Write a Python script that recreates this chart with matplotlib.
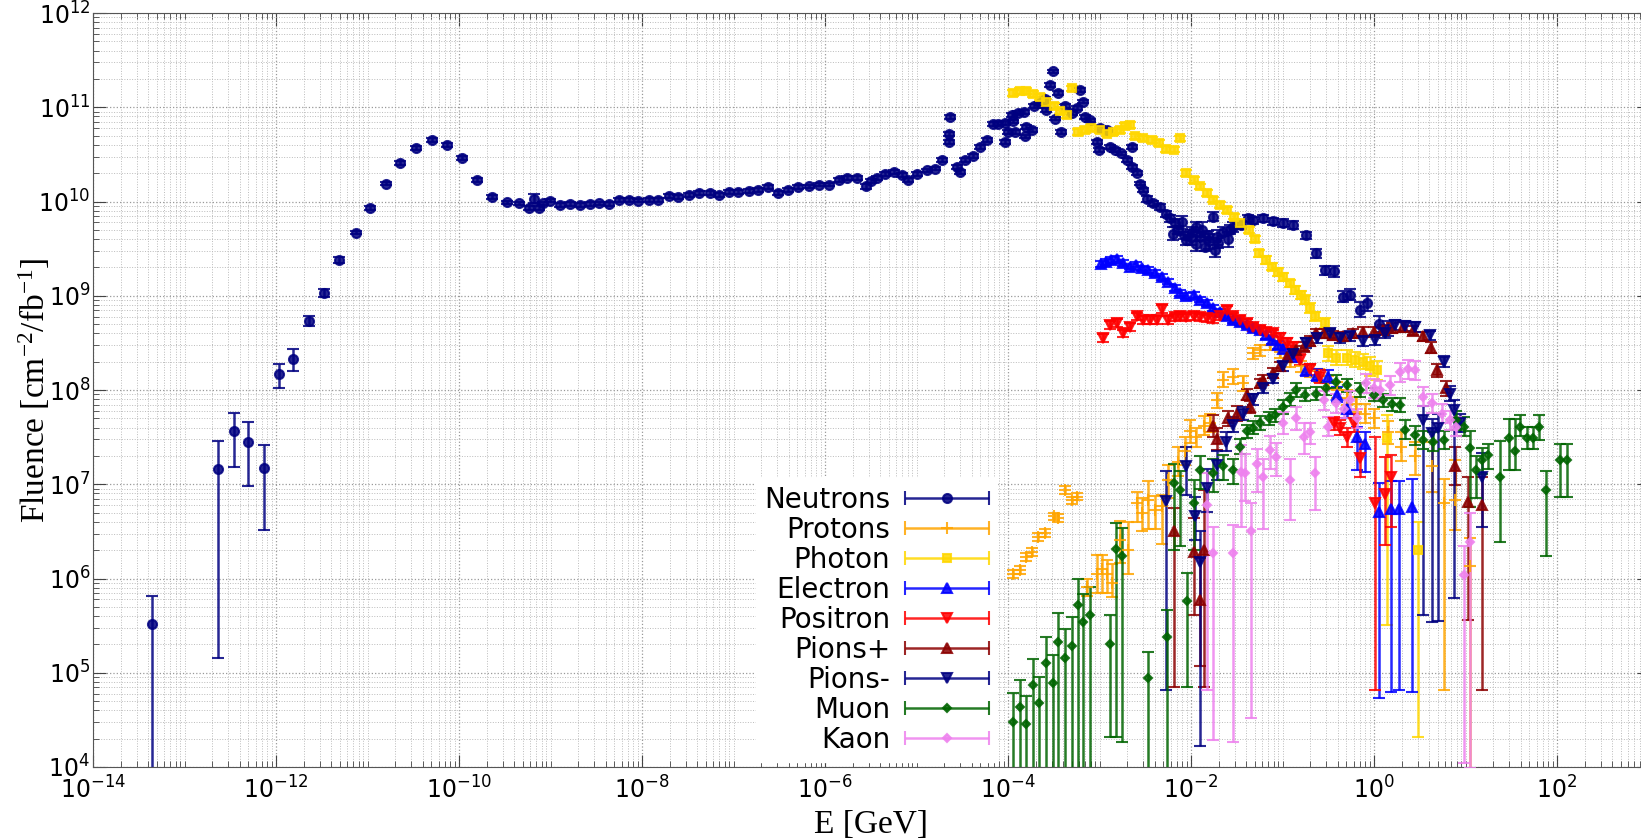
import numpy as np
import matplotlib
matplotlib.use("Agg")
import matplotlib.pyplot as plt
from matplotlib.ticker import LogLocator, FixedLocator, LogFormatterMathtext, NullFormatter
from matplotlib.container import ErrorbarContainer
from matplotlib.legend_handler import HandlerErrorbar

plt.rcParams['mathtext.default'] = 'regular'

# each row: log10(E/GeV), log10(fluence), error up [dex], error down [dex]
neutrons = [
    (-13.36, 5.52, 0.29, 3.0), (-12.63, 7.16, 0.30, 2.0), (-12.46, 7.56, 0.20, 0.38),
    (-12.31, 7.45, 0.21, 0.47), (-12.13, 7.17, 0.25, 0.66), (-11.97, 8.17, 0.11, 0.15),
    (-11.81, 8.33, 0.10, 0.13), (-11.64, 8.73, 0.05, 0.05), (-11.47, 9.03, 0.04, 0.04),
    (-11.31, 9.38, 0.03, 0.03), (-11.13, 9.67, 0.02, 0.02), (-10.97, 9.93, 0.02, 0.02),
    (-10.80, 10.19, 0.02, 0.02), (-10.64, 10.41, 0.02, 0.02), (-10.47, 10.57, 0.02, 0.02),
    (-10.30, 10.65, 0.02, 0.02), (-10.13, 10.60, 0.02, 0.02), (-9.97, 10.46, 0.02, 0.02),
    (-9.80, 10.23, 0.02, 0.02), (-9.64, 10.05, 0.02, 0.02), (-9.47, 9.99, 0.02, 0.02),
    (-9.34, 9.98, 0.02, 0.02), (-9.24, 9.93, 0.02, 0.02), (-9.18, 10.03, 0.05, 0.05),
    (-9.13, 9.93, 0.02, 0.02), (-9.08, 9.98, 0.02, 0.02), (-9.01, 10.01, 0.02, 0.02),
    (-8.90, 9.96, 0.02, 0.02), (-8.79, 9.97, 0.02, 0.02), (-8.68, 9.96, 0.02, 0.02),
    (-8.57, 9.97, 0.02, 0.02), (-8.47, 9.98, 0.02, 0.02), (-8.36, 9.97, 0.02, 0.02),
    (-8.25, 10.02, 0.02, 0.02), (-8.14, 10.02, 0.02, 0.02), (-8.04, 10.01, 0.02, 0.02),
    (-7.92, 10.02, 0.02, 0.02), (-7.82, 10.02, 0.02, 0.02), (-7.71, 10.06, 0.02, 0.02),
    (-7.61, 10.05, 0.02, 0.02), (-7.49, 10.07, 0.02, 0.02), (-7.38, 10.09, 0.02, 0.02),
    (-7.26, 10.09, 0.02, 0.02), (-7.16, 10.07, 0.02, 0.02), (-7.05, 10.10, 0.02, 0.02),
    (-6.95, 10.10, 0.02, 0.02), (-6.83, 10.11, 0.02, 0.02), (-6.73, 10.12, 0.02, 0.02),
    (-6.62, 10.15, 0.02, 0.02), (-6.51, 10.09, 0.02, 0.02), (-6.40, 10.12, 0.02, 0.02),
    (-6.29, 10.15, 0.02, 0.02), (-6.18, 10.16, 0.02, 0.02), (-6.07, 10.18, 0.02, 0.02),
    (-5.96, 10.18, 0.02, 0.02), (-5.85, 10.23, 0.02, 0.02), (-5.76, 10.25, 0.02, 0.02),
    (-5.65, 10.25, 0.02, 0.02), (-5.55, 10.16, 0.03, 0.03), (-5.50, 10.22, 0.02, 0.02),
    (-5.43, 10.25, 0.02, 0.02), (-5.34, 10.29, 0.02, 0.02), (-5.25, 10.31, 0.02, 0.02),
    (-5.16, 10.28, 0.02, 0.02), (-5.09, 10.23, 0.02, 0.02), (-5.00, 10.29, 0.02, 0.02),
    (-4.89, 10.33, 0.02, 0.02), (-4.80, 10.35, 0.02, 0.02), (-4.72, 10.44, 0.02, 0.02),
    (-4.65, 10.63, 0.02, 0.02), (-4.64, 10.72, 0.02, 0.02), (-4.63, 10.90, 0.02, 0.02),
    (-4.56, 10.37, 0.02, 0.02), (-4.52, 10.31, 0.02, 0.02), (-4.47, 10.44, 0.02, 0.02),
    (-4.38, 10.48, 0.02, 0.02), (-4.31, 10.58, 0.02, 0.02), (-4.23, 10.65, 0.02, 0.02),
    (-4.16, 10.82, 0.02, 0.02), (-4.11, 10.82, 0.02, 0.02), (-4.03, 10.63, 0.02, 0.02),
    (-4.03, 10.83, 0.02, 0.02), (-4.00, 10.74, 0.02, 0.02), (-3.96, 10.92, 0.02, 0.02),
    (-3.94, 10.85, 0.02, 0.02), (-3.92, 10.74, 0.02, 0.02), (-3.89, 10.94, 0.02, 0.02),
    (-3.83, 10.95, 0.02, 0.02), (-3.81, 10.69, 0.02, 0.02), (-3.80, 10.79, 0.02, 0.02),
    (-3.74, 10.76, 0.02, 0.02), (-3.72, 11.01, 0.02, 0.02), (-3.65, 11.04, 0.02, 0.02),
    (-3.60, 11.09, 0.02, 0.02), (-3.58, 10.97, 0.02, 0.02), (-3.54, 11.24, 0.02, 0.02),
    (-3.51, 11.38, 0.02, 0.02), (-3.49, 10.88, 0.02, 0.02), (-3.45, 11.15, 0.02, 0.02),
    (-3.42, 10.74, 0.02, 0.02), (-3.38, 11.01, 0.02, 0.02), (-3.30, 10.94, 0.02, 0.02),
    (-3.25, 10.99, 0.02, 0.02), (-3.21, 11.18, 0.02, 0.02), (-3.18, 11.06, 0.02, 0.02),
    (-3.16, 10.90, 0.02, 0.02), (-3.10, 10.86, 0.02, 0.02), (-3.03, 10.63, 0.02, 0.02),
    (-3.01, 10.55, 0.02, 0.02), (-2.99, 10.78, 0.02, 0.02), (-2.92, 10.76, 0.02, 0.02),
    (-2.89, 10.58, 0.02, 0.02), (-2.83, 10.55, 0.02, 0.02), (-2.76, 10.51, 0.02, 0.02),
    (-2.70, 10.44, 0.02, 0.02), (-2.65, 10.58, 0.02, 0.02), (-2.65, 10.37, 0.02, 0.02),
    (-2.59, 10.30, 0.02, 0.02), (-2.56, 10.19, 0.02, 0.02), (-2.52, 10.12, 0.02, 0.02),
    (-2.48, 10.03, 0.03, 0.03), (-2.41, 9.98, 0.03, 0.03), (-2.34, 9.94, 0.03, 0.03),
    (-2.27, 9.87, 0.03, 0.03), (-2.23, 9.82, 0.04, 0.04), (-2.20, 9.66, 0.07, 0.07),
    (-2.17, 9.77, 0.04, 0.04), (-2.14, 9.70, 0.04, 0.04), (-2.10, 9.78, 0.07, 0.07),
    (-2.08, 9.64, 0.04, 0.04), (-2.05, 9.59, 0.05, 0.05), (-2.00, 9.62, 0.08, 0.08),
    (-1.99, 9.68, 0.05, 0.05), (-1.95, 9.55, 0.08, 0.08), (-1.94, 9.73, 0.05, 0.05),
    (-1.90, 9.63, 0.05, 0.05), (-1.88, 9.70, 0.08, 0.08), (-1.85, 9.52, 0.05, 0.05),
    (-1.81, 9.64, 0.05, 0.05), (-1.80, 9.58, 0.08, 0.08), (-1.76, 9.84, 0.05, 0.05),
    (-1.74, 9.49, 0.08, 0.08), (-1.72, 9.62, 0.08, 0.08), (-1.70, 9.56, 0.05, 0.05),
    (-1.65, 9.68, 0.05, 0.05), (-1.60, 9.60, 0.08, 0.08), (-1.57, 9.70, 0.05, 0.05),
    (-1.54, 9.73, 0.05, 0.05), (-1.45, 9.75, 0.04, 0.04), (-1.38, 9.82, 0.04, 0.04),
    (-1.32, 9.80, 0.04, 0.04), (-1.21, 9.82, 0.04, 0.04), (-1.10, 9.79, 0.04, 0.04),
    (-0.99, 9.77, 0.04, 0.04), (-0.88, 9.75, 0.04, 0.04), (-0.74, 9.64, 0.04, 0.04),
    (-0.63, 9.45, 0.05, 0.05), (-0.54, 9.27, 0.05, 0.05), (-0.44, 9.26, 0.06, 0.06),
    (-0.34, 8.99, 0.06, 0.06), (-0.26, 9.01, 0.06, 0.06), (-0.15, 8.85, 0.08, 0.08),
    (-0.08, 8.92, 0.08, 0.08), (0.05, 8.70, 0.08, 0.08), (0.15, 8.65, 0.08, 0.08),
]

protons = [
    (-3.94, 6.05, 0.04, 0.04), (-3.87, 6.09, 0.04, 0.04), (-3.80, 6.23, 0.04, 0.04),
    (-3.74, 6.28, 0.04, 0.04), (-3.67, 6.44, 0.04, 0.04), (-3.60, 6.48, 0.04, 0.04),
    (-3.50, 6.66, 0.04, 0.04), (-3.45, 6.64, 0.04, 0.04), (-3.38, 6.94, 0.04, 0.04),
    (-3.30, 6.83, 0.04, 0.04), (-3.25, 6.87, 0.04, 0.04), (-3.14, 5.91, 0.08, 0.10),
    (-3.03, 6.05, 0.20, 0.20), (-2.97, 6.10, 0.15, 0.25), (-2.92, 6.05, 0.15, 0.20),
    (-2.86, 5.95, 0.20, 0.15), (-2.78, 6.41, 0.20, 0.25), (-2.69, 6.30, 0.30, 0.25),
    (-2.59, 6.80, 0.12, 0.20), (-2.54, 6.70, 0.15, 0.20), (-2.47, 6.83, 0.20, 0.30),
    (-2.39, 6.73, 0.15, 0.20), (-2.32, 6.77, 0.12, 0.40), (-2.25, 7.05, 0.15, 0.20),
    (-2.14, 7.24, 0.15, 0.15), (-2.07, 7.35, 0.15, 0.15), (-2.01, 7.56, 0.12, 0.12),
    (-1.94, 7.50, 0.10, 0.10), (-1.86, 7.62, 0.10, 0.10), (-1.79, 7.65, 0.10, 0.10),
    (-1.72, 7.89, 0.08, 0.08), (-1.65, 8.11, 0.08, 0.08), (-1.54, 8.14, 0.08, 0.08),
    (-1.43, 8.07, 0.08, 0.08), (-1.32, 8.39, 0.06, 0.06), (-1.25, 8.42, 0.06, 0.06),
    (-1.14, 8.48, 0.06, 0.06), (-1.03, 8.40, 0.06, 0.06), (-0.92, 8.30, 0.06, 0.06),
    (-0.80, 8.25, 0.06, 0.06), (-0.70, 8.20, 0.06, 0.06), (-0.60, 8.15, 0.07, 0.07),
    (-0.50, 8.08, 0.07, 0.07), (-0.40, 8.00, 0.08, 0.08), (-0.30, 7.92, 0.08, 0.08),
    (-0.20, 7.85, 0.08, 0.08), (-0.10, 7.75, 0.10, 0.10), (0.00, 7.70, 0.10, 0.10),
    (0.15, 7.55, 0.12, 0.12), (0.30, 7.40, 0.15, 0.15), (0.45, 7.30, 0.15, 0.20),
    (0.63, 7.19, 0.26, 0.27), (0.76, 6.80, 0.26, 1.98), (0.89, 6.83, 0.43, 0.32),
    (1.05, 6.13, 0.30, 2.20),
]

photons = [
    (-3.94, 11.15, 0.03, 0.03), (-3.87, 11.17, 0.03, 0.03), (-3.80, 11.17, 0.03, 0.03),
    (-3.73, 11.14, 0.03, 0.03), (-3.65, 11.11, 0.03, 0.03), (-3.58, 11.06, 0.03, 0.03),
    (-3.50, 11.01, 0.03, 0.03), (-3.43, 10.96, 0.03, 0.03), (-3.36, 10.92, 0.03, 0.03),
    (-3.30, 11.20, 0.03, 0.03), (-3.23, 10.74, 0.03, 0.03), (-3.16, 10.76, 0.03, 0.03),
    (-3.09, 10.78, 0.03, 0.03), (-3.00, 10.76, 0.03, 0.03), (-2.92, 10.72, 0.03, 0.03),
    (-2.85, 10.74, 0.03, 0.03), (-2.78, 10.76, 0.03, 0.03), (-2.72, 10.80, 0.03, 0.03),
    (-2.67, 10.81, 0.03, 0.03), (-2.61, 10.69, 0.03, 0.03), (-2.52, 10.67, 0.03, 0.03),
    (-2.43, 10.65, 0.03, 0.03), (-2.35, 10.62, 0.03, 0.03), (-2.27, 10.56, 0.03, 0.03),
    (-2.19, 10.55, 0.03, 0.03), (-2.12, 10.67, 0.03, 0.03), (-2.05, 10.30, 0.03, 0.03),
    (-1.97, 10.23, 0.03, 0.03), (-1.90, 10.16, 0.03, 0.03), (-1.83, 10.09, 0.03, 0.03),
    (-1.76, 10.02, 0.03, 0.03), (-1.68, 9.96, 0.03, 0.03), (-1.61, 9.91, 0.03, 0.03),
    (-1.53, 9.84, 0.03, 0.03), (-1.46, 9.77, 0.03, 0.03), (-1.37, 9.70, 0.03, 0.03),
    (-1.30, 9.60, 0.03, 0.03), (-1.26, 9.45, 0.04, 0.04), (-1.18, 9.38, 0.04, 0.04),
    (-1.12, 9.31, 0.04, 0.04), (-1.05, 9.25, 0.04, 0.04), (-0.99, 9.20, 0.04, 0.04),
    (-0.92, 9.13, 0.04, 0.04), (-0.86, 9.06, 0.04, 0.04), (-0.80, 9.01, 0.04, 0.04),
    (-0.75, 8.96, 0.05, 0.05), (-0.70, 8.87, 0.05, 0.05), (-0.64, 8.78, 0.05, 0.05),
    (-0.54, 8.71, 0.05, 0.05), (-0.50, 8.39, 0.08, 0.08), (-0.41, 8.34, 0.08, 0.08),
    (-0.30, 8.34, 0.08, 0.08), (-0.21, 8.32, 0.08, 0.08), (-0.12, 8.30, 0.08, 0.08),
    (-0.04, 8.25, 0.10, 0.10), (0.03, 8.21, 0.10, 0.10), (0.14, 7.49, 0.25, 1.98),
    (0.48, 6.30, 0.30, 1.98),
]

electrons = [
    (-2.98, 9.34, 0.03, 0.03), (-2.93, 9.36, 0.03, 0.03), (-2.87, 9.38, 0.03, 0.03),
    (-2.81, 9.39, 0.03, 0.03), (-2.74, 9.35, 0.03, 0.03), (-2.67, 9.31, 0.03, 0.03),
    (-2.60, 9.33, 0.03, 0.03), (-2.54, 9.29, 0.03, 0.03), (-2.47, 9.27, 0.03, 0.03),
    (-2.39, 9.24, 0.03, 0.03), (-2.32, 9.20, 0.03, 0.03), (-2.25, 9.15, 0.03, 0.03),
    (-2.18, 9.08, 0.03, 0.03), (-2.12, 9.03, 0.03, 0.03), (-2.05, 9.00, 0.03, 0.03),
    (-1.97, 9.01, 0.03, 0.03), (-1.90, 8.96, 0.03, 0.03), (-1.83, 8.92, 0.03, 0.03),
    (-1.76, 8.87, 0.03, 0.03), (-1.68, 8.83, 0.03, 0.03), (-1.61, 8.78, 0.03, 0.03),
    (-1.54, 8.74, 0.03, 0.03), (-1.46, 8.72, 0.03, 0.03), (-1.39, 8.69, 0.03, 0.03),
    (-1.32, 8.66, 0.03, 0.03), (-1.25, 8.64, 0.03, 0.03), (-1.18, 8.58, 0.04, 0.04),
    (-1.12, 8.53, 0.04, 0.04), (-1.05, 8.48, 0.04, 0.04), (-0.99, 8.44, 0.04, 0.04),
    (-0.92, 8.38, 0.05, 0.05), (-0.85, 8.35, 0.05, 0.05), (-0.74, 8.21, 0.06, 0.06),
    (-0.62, 8.16, 0.06, 0.06), (-0.50, 8.14, 0.07, 0.07), (-0.40, 7.95, 0.08, 0.08),
    (-0.30, 7.80, 0.10, 0.10), (-0.19, 7.50, 0.11, 0.35), (-0.10, 7.43, 0.12, 0.30),
    (0.05, 6.71, 0.30, 1.98), (0.19, 6.74, 0.29, 1.94), (0.27, 6.74, 0.29, 1.92),
    (0.41, 6.76, 0.30, 1.96),
]

positrons = [
    (-2.96, 8.55, 0.04, 0.04), (-2.89, 8.69, 0.04, 0.04), (-2.81, 8.71, 0.04, 0.04),
    (-2.74, 8.60, 0.04, 0.04), (-2.67, 8.67, 0.04, 0.04), (-2.59, 8.78, 0.04, 0.04),
    (-2.52, 8.74, 0.04, 0.04), (-2.45, 8.74, 0.04, 0.04), (-2.37, 8.74, 0.04, 0.04),
    (-2.32, 8.86, 0.04, 0.04), (-2.25, 8.74, 0.04, 0.04), (-2.18, 8.77, 0.04, 0.04),
    (-2.12, 8.78, 0.04, 0.04), (-2.05, 8.77, 0.04, 0.04), (-1.97, 8.78, 0.04, 0.04),
    (-1.90, 8.77, 0.04, 0.04), (-1.83, 8.76, 0.04, 0.04), (-1.76, 8.75, 0.04, 0.04),
    (-1.68, 8.78, 0.04, 0.04), (-1.61, 8.85, 0.04, 0.04), (-1.54, 8.78, 0.04, 0.04),
    (-1.46, 8.74, 0.04, 0.04), (-1.39, 8.71, 0.04, 0.04), (-1.32, 8.67, 0.04, 0.04),
    (-1.25, 8.64, 0.04, 0.04), (-1.18, 8.62, 0.04, 0.04), (-1.10, 8.60, 0.04, 0.04),
    (-1.03, 8.55, 0.05, 0.05), (-0.95, 8.50, 0.05, 0.05), (-0.88, 8.46, 0.05, 0.05),
    (-0.81, 8.32, 0.06, 0.06), (-0.70, 8.22, 0.06, 0.06), (-0.59, 8.14, 0.07, 0.07),
    (-0.44, 7.65, 0.06, 0.07), (-0.37, 7.60, 0.08, 0.08), (-0.30, 7.50, 0.10, 0.10),
    (-0.22, 7.65, 0.10, 0.10), (-0.15, 7.28, 0.17, 0.20), (0.01, 6.80, 0.70, 1.98),
    (0.12, 6.90, 0.39, 0.54), (0.19, 7.08, 0.23, 0.53),
]

pions_plus = [
    (-2.19, 6.50, 0.25, 1.65), (-1.97, 6.28, 0.36, 0.67), (-1.90, 5.77, 0.45, 0.70),
    (-1.86, 6.30, 0.64, 1.45), (-1.76, 7.62, 0.12, 0.12), (-1.72, 7.48, 0.12, 0.12),
    (-1.60, 7.70, 0.08, 0.08), (-1.50, 7.75, 0.08, 0.08), (-1.39, 7.95, 0.06, 0.06),
    (-1.36, 7.82, 0.06, 0.06), (-1.25, 8.07, 0.05, 0.05), (-1.21, 8.11, 0.05, 0.05),
    (-1.10, 8.18, 0.05, 0.05), (-1.03, 8.25, 0.05, 0.05), (-0.95, 8.35, 0.05, 0.05),
    (-0.85, 8.42, 0.05, 0.05), (-0.77, 8.46, 0.05, 0.05), (-0.70, 8.52, 0.05, 0.05),
    (-0.63, 8.60, 0.05, 0.05), (-0.55, 8.60, 0.05, 0.05), (-0.45, 8.58, 0.05, 0.05),
    (-0.34, 8.57, 0.05, 0.05), (-0.23, 8.60, 0.05, 0.05), (-0.12, 8.62, 0.05, 0.05),
    (0.00, 8.62, 0.05, 0.05), (0.10, 8.64, 0.05, 0.05), (0.20, 8.66, 0.05, 0.05),
    (0.32, 8.67, 0.05, 0.05), (0.43, 8.63, 0.05, 0.05), (0.54, 8.57, 0.05, 0.05),
    (0.62, 8.45, 0.06, 0.06), (0.69, 8.21, 0.07, 0.07), (0.79, 8.02, 0.08, 0.08),
    (0.89, 7.19, 0.20, 0.20), (1.03, 6.81, 0.27, 1.25), (1.18, 6.78, 0.30, 1.96),
]

pions_minus = [
    (-2.27, 6.82, 0.32, 2.00), (-2.05, 7.19, 0.20, 0.30), (-1.96, 6.66, 0.20, 0.25),
    (-1.90, 6.18, 0.32, 1.96), (-1.83, 6.96, 0.20, 0.25), (-1.72, 7.20, 0.15, 0.15),
    (-1.62, 7.45, 0.10, 0.10), (-1.54, 7.63, 0.08, 0.08), (-1.43, 7.75, 0.07, 0.07),
    (-1.32, 7.90, 0.06, 0.06), (-1.21, 8.02, 0.05, 0.05), (-1.10, 8.12, 0.05, 0.05),
    (-0.99, 8.25, 0.05, 0.05), (-0.88, 8.38, 0.05, 0.05), (-0.74, 8.50, 0.05, 0.05),
    (-0.62, 8.55, 0.05, 0.05), (-0.48, 8.60, 0.05, 0.05), (-0.37, 8.55, 0.05, 0.05),
    (-0.26, 8.57, 0.05, 0.05), (-0.12, 8.52, 0.05, 0.05), (0.01, 8.53, 0.05, 0.05),
    (0.12, 8.60, 0.05, 0.05), (0.23, 8.69, 0.05, 0.05), (0.34, 8.68, 0.05, 0.05),
    (0.45, 8.67, 0.05, 0.05), (0.54, 7.68, 0.15, 2.07), (0.61, 8.58, 0.05, 0.05),
    (0.63, 7.54, 0.15, 2.00), (0.70, 7.60, 0.15, 2.05), (0.76, 8.30, 0.06, 0.06),
    (0.83, 7.96, 0.08, 0.08), (0.87, 7.79, 0.10, 2.00), (0.94, 7.65, 0.10, 0.10),
    (1.18, 7.08, 0.25, 0.53),
]

muons = [
    (-3.94, 4.48, 0.30, 3.0), (-3.87, 4.64, 0.28, 3.0), (-3.80, 4.46, 0.29, 3.0),
    (-3.73, 4.87, 0.28, 3.0), (-3.66, 4.68, 0.28, 3.0), (-3.59, 5.10, 0.28, 3.0),
    (-3.51, 4.89, 0.30, 3.0), (-3.45, 5.33, 0.30, 3.0), (-3.38, 5.16, 0.30, 3.0),
    (-3.30, 5.28, 0.31, 3.0), (-3.24, 5.72, 0.28, 3.0), (-3.18, 5.54, 0.30, 3.0),
    (-3.10, 5.61, 0.30, 3.0), (-2.89, 5.31, 0.30, 0.99), (-2.82, 6.31, 0.28, 1.99),
    (-2.75, 6.24, 0.30, 1.97), (-2.47, 4.94, 0.28, 3.0), (-2.26, 5.38, 0.29, 3.0),
    (-2.19, 7.01, 0.21, 0.71), (-2.12, 6.94, 0.20, 0.60), (-2.04, 5.76, 0.30, 0.91),
    (-1.97, 6.80, 0.25, 0.50), (-1.90, 7.15, 0.15, 0.20), (-1.76, 7.12, 0.15, 0.20),
    (-1.65, 7.19, 0.12, 0.15), (-1.54, 7.15, 0.12, 0.15), (-1.46, 7.40, 0.08, 0.08),
    (-1.39, 7.56, 0.07, 0.07), (-1.32, 7.60, 0.07, 0.07), (-1.25, 7.65, 0.07, 0.07),
    (-1.15, 7.70, 0.07, 0.07), (-1.08, 7.73, 0.07, 0.07), (-0.99, 7.82, 0.07, 0.07),
    (-0.92, 7.90, 0.07, 0.07), (-0.85, 8.00, 0.07, 0.07), (-0.75, 7.95, 0.07, 0.07),
    (-0.63, 7.96, 0.07, 0.07), (-0.52, 8.02, 0.07, 0.07), (-0.41, 8.09, 0.07, 0.07),
    (-0.30, 8.05, 0.07, 0.07), (-0.15, 8.00, 0.07, 0.07), (0.00, 7.95, 0.07, 0.07),
    (0.10, 7.89, 0.07, 0.07), (0.20, 7.85, 0.07, 0.07), (0.28, 7.84, 0.07, 0.07),
    (0.34, 7.58, 0.10, 0.10), (0.45, 7.52, 0.10, 0.10), (0.54, 7.47, 0.10, 0.10),
    (0.65, 7.45, 0.10, 0.10), (0.76, 7.47, 0.10, 0.10), (0.90, 7.68, 0.10, 0.10),
    (0.98, 7.61, 0.10, 0.10), (1.05, 7.38, 0.18, 0.62), (1.12, 7.15, 0.15, 0.30),
    (1.18, 7.26, 0.12, 0.15), (1.25, 7.31, 0.12, 0.15), (1.38, 7.08, 0.38, 0.69),
    (1.47, 7.49, 0.20, 0.34), (1.54, 7.35, 0.34, 0.20), (1.60, 7.61, 0.13, 0.10),
    (1.67, 7.49, 0.12, 0.12), (1.74, 7.49, 0.12, 0.12), (1.80, 7.61, 0.12, 0.14),
    (1.88, 6.94, 0.20, 0.70), (2.03, 7.26, 0.17, 0.39), (2.11, 7.26, 0.17, 0.39),
]

kaons = [
    (-1.83, 6.78, 0.34, 1.96), (-1.76, 6.27, 0.28, 1.98), (-1.54, 6.27, 0.30, 2.00),
    (-1.45, 7.13, 0.29, 0.58), (-1.41, 7.12, 0.20, 0.30), (-1.34, 6.50, 0.30, 1.98),
    (-1.28, 7.22, 0.15, 0.30), (-1.21, 7.08, 0.19, 0.55), (-1.14, 7.36, 0.15, 0.20),
    (-1.07, 7.29, 0.15, 0.20), (-0.99, 7.65, 0.12, 0.12), (-0.92, 7.04, 0.23, 0.42),
    (-0.85, 7.70, 0.12, 0.12), (-0.77, 7.50, 0.15, 0.18), (-0.70, 7.55, 0.10, 0.12),
    (-0.64, 7.12, 0.17, 0.39), (-0.55, 7.89, 0.10, 0.10), (-0.50, 7.61, 0.10, 0.10),
    (-0.41, 7.86, 0.10, 0.10), (-0.33, 7.80, 0.10, 0.10), (-0.26, 7.89, 0.10, 0.10),
    (-0.19, 7.70, 0.10, 0.10), (-0.09, 8.07, 0.10, 0.10), (0.00, 8.02, 0.10, 0.10),
    (0.07, 8.00, 0.10, 0.10), (0.17, 8.05, 0.10, 0.10), (0.28, 8.19, 0.10, 0.10),
    (0.37, 8.22, 0.10, 0.10), (0.45, 8.21, 0.10, 0.10), (0.54, 7.93, 0.10, 0.10),
    (0.63, 7.86, 0.10, 0.10), (0.74, 7.75, 0.10, 0.10), (0.83, 7.68, 0.10, 0.10),
    (0.90, 7.61, 0.10, 0.10), (0.98, 6.04, 0.30, 2.00), (1.05, 6.39, 0.30, 2.40),
]

labels = ["Neutrons", "Protons", "Photon", "Electron", "Positron",
          "Pions+", "Pions-", "Muon", "Kaon"]
datasets = [neutrons, protons, photons, electrons, positrons,
            pions_plus, pions_minus, muons, kaons]
colors = ["navy", "orange", "gold", "blue", "red",
          "darkred", "navy", "darkgreen", "violet"]
markers = ["o", "+", "s", "^", "v", "^", "v", "D", "D"]
msizes = [6.5, 8, 6, 7.5, 7.5, 7.5, 7.5, 4.5, 4.5]

xticks = [1e-14, 1e-12, 1e-10, 1e-8, 1e-6, 1e-4, 1e-2, 1e0, 1e2]

W, H = 1641, 839
fig = plt.figure(figsize=(W / 100, H / 100), dpi=100)
# axes runs a little past the right border, the original is cut there
ax = fig.add_axes([93 / W, 72 / H, 1555.5 / W, 754 / H])
ax.set_xscale('log')
ax.set_yscale('log')

proxies = []
for data, col, mk, ms in zip(datasets, colors, markers, msizes):
    d = np.array(data)
    E = 10 ** d[:, 0]
    F = 10 ** d[:, 1]
    yerr = [F - 10 ** (d[:, 1] - d[:, 3]), 10 ** (d[:, 1] + d[:, 2]) - F]
    ax.errorbar(E, F, yerr=yerr, fmt=mk, color=col, mec=col, ms=ms, mew=1.5,
                capsize=4, capthick=1.8, elinewidth=1.8, alpha=0.85, zorder=3)
    # legend proxy: horizontal bar with end caps, as in the original legend
    p = ax.errorbar([np.nan], [np.nan], xerr=[1.0], fmt=mk, color=col, mec=col,
                    ms=ms, mew=1.5, capsize=5, capthick=1.8, elinewidth=1.8, alpha=0.85)
    proxies.append(p)

ax.set_xlim(1e-14, 1e3)
ax.set_ylim(1e4, 1e12)

ax.xaxis.set_major_locator(FixedLocator(xticks))
ax.xaxis.set_minor_locator(LogLocator(base=10, subs=np.arange(1, 10), numticks=100))
ax.yaxis.set_major_locator(LogLocator(base=10, numticks=20))
ax.yaxis.set_minor_locator(LogLocator(base=10, subs=np.arange(2, 10), numticks=100))
ax.xaxis.set_major_formatter(LogFormatterMathtext())
ax.yaxis.set_major_formatter(LogFormatterMathtext())
ax.xaxis.set_minor_formatter(NullFormatter())
ax.yaxis.set_minor_formatter(NullFormatter())

ax.tick_params(which='both', direction='in', top=True, right=True, color='#444444')
ax.tick_params(which='major', length=9, labelsize=17)
ax.tick_params(which='minor', length=4.5)
ax.tick_params(axis='x', pad=7)
ax.tick_params(axis='y', pad=2)
for s in ax.spines.values():
    s.set_color('#555555')

ax.set_axisbelow(True)
ax.grid(True, which='major', color='#999999', linestyle=':', linewidth=0.9)
ax.grid(True, which='minor', color='#bbbbbb', linestyle=':', linewidth=0.7)

ax.set_xlabel('E [GeV]', fontfamily='Liberation Serif', fontsize=24, va='center')
ax.xaxis.set_label_coords(0.5, -0.076)
ax.set_ylabel(r'Fluence [cm$^{-2}$/fb$^{-1}$]', fontfamily='Liberation Serif',
              fontsize=24, va='center')
ax.yaxis.set_label_coords(-0.038, 0.5)

leg = ax.legend(proxies, labels, loc='lower right',
                bbox_to_anchor=(997 / W, 77 / H), bbox_transform=fig.transFigure,
                borderaxespad=0, markerfirst=False, numpoints=1, fontsize=20,
                handlelength=3.0, handletextpad=0.55, labelspacing=0.07, borderpad=0.3,
                frameon=True, fancybox=False, framealpha=1, edgecolor='white',
                handler_map={ErrorbarContainer: HandlerErrorbar(xerr_size=1.5)})
leg.set_zorder(5)

fig.savefig('out.png', dpi=100)
